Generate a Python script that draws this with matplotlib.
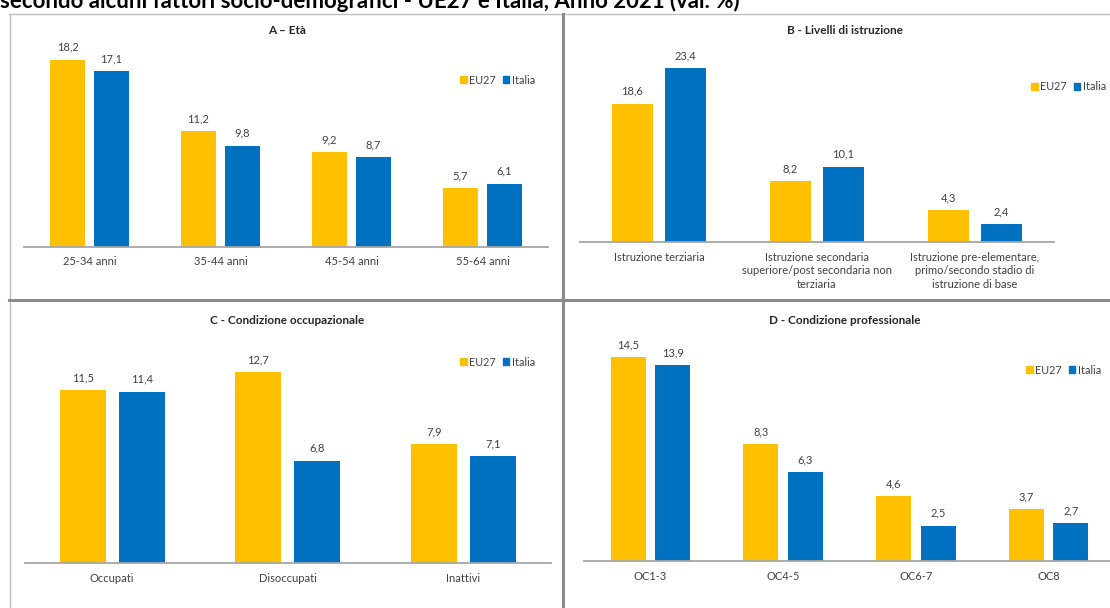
import matplotlib
matplotlib.use("Agg")
import matplotlib.pyplot as plt
import numpy as np
from matplotlib.lines import Line2D
from matplotlib.patches import Patch

plt.rcParams['font.family'] = ['Lato', 'DejaVu Sans']

W, H = 1110, 608

series = ["EU27", "Italia"]
colors = ["#FFC000", "#0070C0"]

# A - Età
age_labels = ["25-34 anni", "35-44 anni", "45-54 anni", "55-64 anni"]
age_eu = [18.2, 11.2, 9.2, 5.7]
age_it = [17.1, 9.8, 8.7, 6.1]

# B - Livelli di istruzione
edu_labels = ["Istruzione terziaria",
              "Istruzione secondaria\nsuperiore/post secondaria non\nterziaria",
              "Istruzione pre-elementare,\nprimo/secondo stadio di\nistruzione di base"]
edu_eu = [18.6, 8.2, 4.3]
edu_it = [23.4, 10.1, 2.4]

# C - Condizione occupazionale
occ_labels = ["Occupati", "Disoccupati", "Inattivi"]
occ_eu = [11.5, 12.7, 7.9]
occ_it = [11.4, 6.8, 7.1]

# D - Condizione professionale
prof_labels = ["OC1-3", "OC4-5", "OC6-7", "OC8"]
prof_eu = [14.5, 8.3, 4.6, 3.7]
prof_it = [13.9, 6.3, 2.5, 2.7]

fig = plt.figure(figsize=(W / 100, H / 100), dpi=100)
fig.patch.set_facecolor("white")

TXT = "#404040"


def px_axes(left, right, baseline, top):
    return fig.add_axes([left / W, 1 - baseline / H, (right - left) / W, (baseline - top) / H])


def fx(x):
    return x / W


def fy(y):
    return 1 - y / H


def panel(left, right, baseline, scale, ymax, labels, eu, it, legend_xy, title, title_xy):
    top = baseline - ymax * scale
    ax = px_axes(left, right, baseline, top)
    x = np.arange(len(labels))
    off, bw = 0.168, 0.263
    b1 = ax.bar(x - off, eu, bw, color=colors[0], label=series[0])
    b2 = ax.bar(x + off, it, bw, color=colors[1], label=series[1])
    for bars, vals in ((b1, eu), (b2, it)):
        for rect, v in zip(bars, vals):
            ax.annotate(f"{v:.1f}".replace(".", ","),
                        (rect.get_x() + rect.get_width() / 2, v),
                        xytext=(0, 5), textcoords="offset points",
                        ha="center", va="bottom", fontsize=8, color=TXT)
    ax.set_xlim(-0.5, len(labels) - 0.5)
    ax.set_ylim(0, ymax)
    for s in ("top", "right", "left"):
        ax.spines[s].set_visible(False)
    ax.spines["bottom"].set_color("#A6A6A6")
    ax.spines["bottom"].set_linewidth(1.3)
    ax.set_yticks([])
    ax.set_xticks(x)
    ax.set_xticklabels(labels, fontsize=8, color=TXT, linespacing=1.3)
    ax.tick_params(axis="x", length=0, pad=7)
    ax.patch.set_alpha(0)
    ax.legend(handles=[Patch(color=colors[0], label=series[0]),
                       Patch(color=colors[1], label=series[1])],
              ncol=2, frameon=False, fontsize=7.8, labelcolor=TXT,
              handlelength=0.6, handleheight=0.6, handletextpad=0.2,
              columnspacing=0.7, loc="center left", borderaxespad=0, borderpad=0,
              bbox_to_anchor=(fx(legend_xy[0]), fy(legend_xy[1])),
              bbox_transform=fig.transFigure)
    fig.text(fx(title_xy[0]), fy(title_xy[1]), title, ha="center", va="center",
             fontsize=8.5, fontweight="bold", color="#262626")
    return ax


panel(24, 548, 246.5, 10.27, 20, age_labels, age_eu, age_it, (460, 80), "A \u2013 Età", (287, 31))
panel(580, 1054, 242, 7.44, 25, edu_labels, edu_eu, edu_it, (1031, 87), "B - Livelli di istruzione", (845, 31))
panel(24.5, 551, 563, 15.04, 15, occ_labels, occ_eu, occ_it, (460, 362), "C - Condizione occupazionale", (287, 321))
panel(584, 1115, 561, 14.07, 16, prof_labels, prof_eu, prof_it, (1026, 370), "D - Condizione professionale", (845, 321))

# Panel frame and dividers
thin = "#BFBFBF"
thick = "#8C8C8C"
fig.add_artist(Line2D([fx(9), fx(1110)], [fy(14), fy(14)], color=thin, lw=1))
fig.add_artist(Line2D([fx(9.5), fx(9.5)], [fy(14), fy(608)], color=thin, lw=1))
fig.add_artist(Line2D([fx(563), fx(563)], [fy(14), fy(608)], color=thick, lw=2.2))
fig.add_artist(Line2D([fx(9), fx(1110)], [fy(299.5), fy(299.5)], color=thick, lw=2.2))

# Heading, partly above the top edge
fig.text(fx(0), fy(8), "secondo alcuni fattori socio-demografici - UE27 e Italia, Anno 2021 (val. %)",
         ha="left", va="baseline", fontsize=16, fontweight="bold", color="black")

fig.savefig("out.png", dpi=100)
